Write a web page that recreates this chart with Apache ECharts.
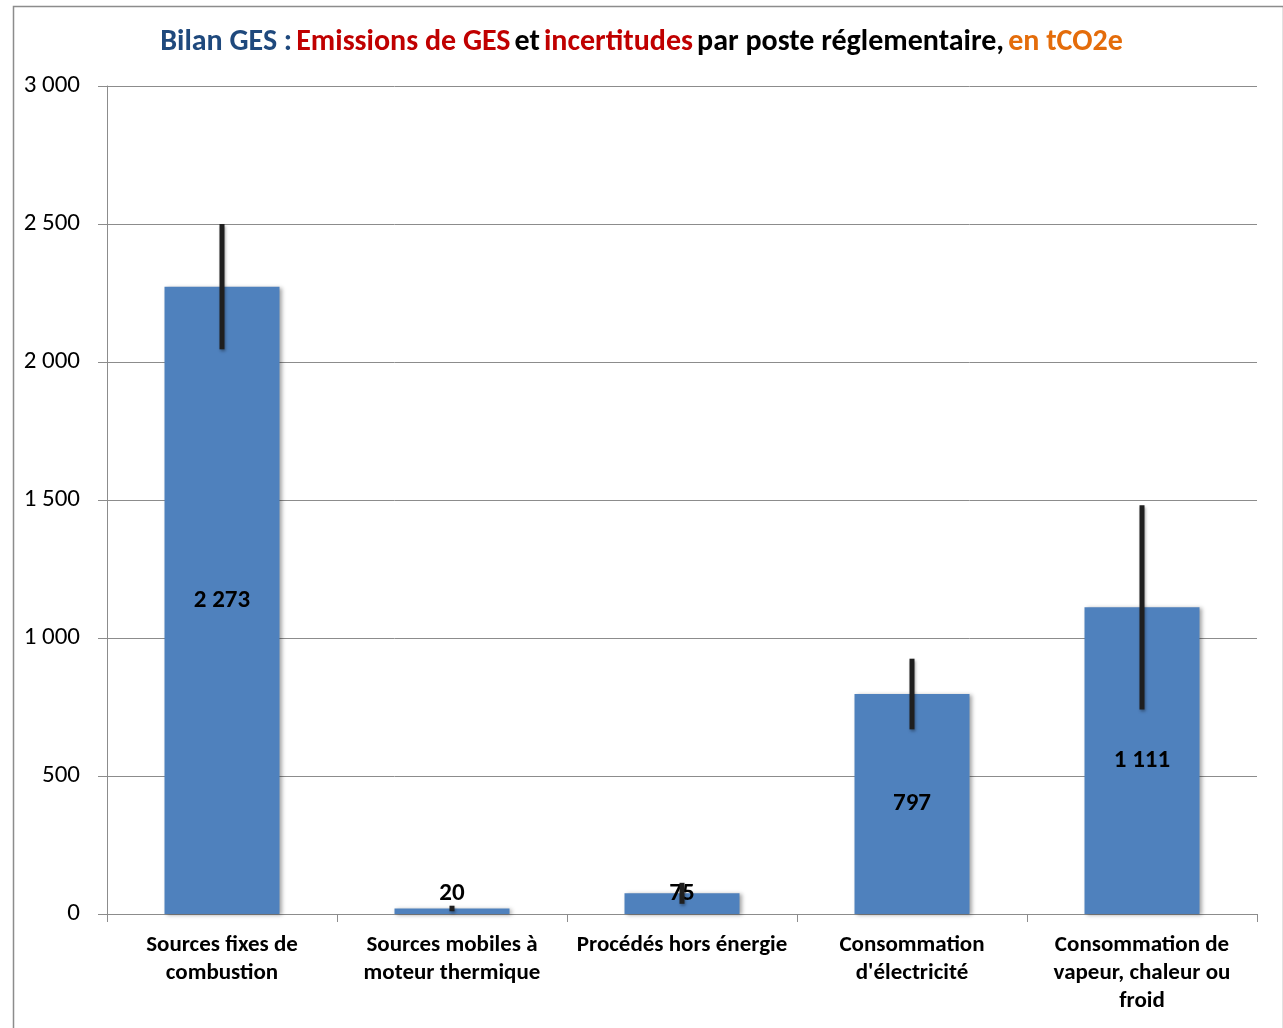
<!DOCTYPE html>
<html lang="fr">
  <head>
    <meta charset="UTF-8" />
    <title>Bilan GES par poste réglementaire</title>
    <script src="https://cdn.jsdelivr.net/npm/echarts@6/dist/echarts.min.js"></script>
    <style>
      * { margin: 0; padding: 0; box-sizing: border-box; }
      body { background: #fff; }
      #chart { width: 1283px; height: 1028px; }
    </style>
  </head>
  <body>
    <div id="chart"></div>
    <script>
      /* ---------- data ---------- */
      const categories = [
        "Sources fixes de\ncombustion",
        "Sources mobiles à\nmoteur thermique",
        "Procédés hors énergie",
        "Consommation\nd'électricité",
        "Consommation de\nvapeur, chaleur ou\nfroid",
      ];
      const emissions = [2273, 20, 75, 797, 1111];
      const uncertainty = [227, 10, 38, 128, 370]; // +/- tCO2e
      const yTicks = [0, 500, 1000, 1500, 2000, 2500, 3000];

      /* ---------- helpers ---------- */
      const FONT = "Carlito, 'Liberation Sans', Arial, sans-serif";
      const fmt = (v) => String(v).replace(/\B(?=(\d{3})+(?!\d))/g, " ");

      const chart = echarts.init(document.getElementById("chart"), null, { renderer: "canvas" });

      // small bars get their label above the bar, like in the original
      const barData = emissions.map((v) => ({
        value: v,
        label: v < 200
          ? { position: "top", distance: v < 50 ? 2 : -13 }
          : { position: "inside" },
      }));

      const errData = emissions.map((v, i) => [i, v - uncertainty[i], v + uncertainty[i]]);

      const titleStyle = (color) => ({ color, fontSize: 30, fontWeight: "bold", fontFamily: FONT });

      const option = {
        backgroundColor: "#fff",
        animation: false,
        textStyle: { fontFamily: FONT },
        title: {
          left: "center",
          top: 22,
          text:
            "{b|Bilan GES :} {r|Emissions de GES} {k|et} {r|incertitudes} {k|par poste réglementaire,} {o|en tCO2e}",
          textStyle: {
            rich: {
              b: titleStyle("#1F497D"),
              r: titleStyle("#C00000"),
              k: titleStyle("#000"),
              o: titleStyle("#E46C0A"),
            },
          },
        },
        graphic: [
          {
            type: "rect",
            left: 11,
            top: 4,
            shape: { width: 1270, height: 1040 },
            style: { fill: "none", stroke: "#8c8c8c", lineWidth: 1.5 },
            silent: true,
          },
        ],
        grid: { left: 107, right: 26, top: 86, bottom: 114 },
        xAxis: {
          type: "category",
          data: categories,
          axisLine: { lineStyle: { color: "#8c8c8c", width: 1 } },
          axisTick: { show: true, length: 8, lineStyle: { color: "#8c8c8c" } },
          axisLabel: {
            interval: 0,
            margin: 17,
            color: "#000",
            fontWeight: "bold",
            fontSize: 23,
            lineHeight: 28,
            fontFamily: FONT,
          },
        },
        yAxis: {
          type: "value",
          min: yTicks[0],
          max: yTicks[yTicks.length - 1],
          interval: yTicks[1] - yTicks[0],
          axisLine: { show: true, lineStyle: { color: "#8c8c8c", width: 1 } },
          axisTick: { show: true, inside: false, length: 9, lineStyle: { color: "#8c8c8c" } },
          axisLabel: {
            margin: 27,
            color: "#000",
            fontSize: 25,
            fontFamily: FONT,
            formatter: (v) => fmt(v),
          },
          splitLine: { lineStyle: { color: "#8c8c8c", width: 1 } },
        },
        series: [
          {
            name: "Emissions",
            type: "bar",
            data: barData,
            barWidth: "50%",
            itemStyle: {
              color: "#4F81BD",
              shadowColor: "rgba(0,0,0,0.35)",
              shadowBlur: 4,
              shadowOffsetX: 2,
              shadowOffsetY: 1,
            },
            label: {
              show: true,
              color: "#000",
              fontWeight: "bold",
              fontSize: 25,
              fontFamily: FONT,
              formatter: (p) => fmt(p.value),
            },
            z: 2,
          },
          {
            name: "Incertitudes",
            type: "custom",
            data: errData,
            z: 3,
            renderItem: (params, api) => {
              const lo = api.coord([api.value(0), api.value(1)]);
              const hi = api.coord([api.value(0), api.value(2)]);
              return {
                type: "line",
                shape: { x1: lo[0], y1: lo[1], x2: hi[0], y2: hi[1] },
                style: {
                  stroke: "#1f1f1f",
                  lineWidth: 5,
                  shadowColor: "rgba(0,0,0,0.35)",
                  shadowBlur: 3,
                  shadowOffsetX: 1,
                  shadowOffsetY: 2,
                },
              };
            },
          },
        ],
      };

      chart.setOption(option);
    </script>
  </body>
</html>
